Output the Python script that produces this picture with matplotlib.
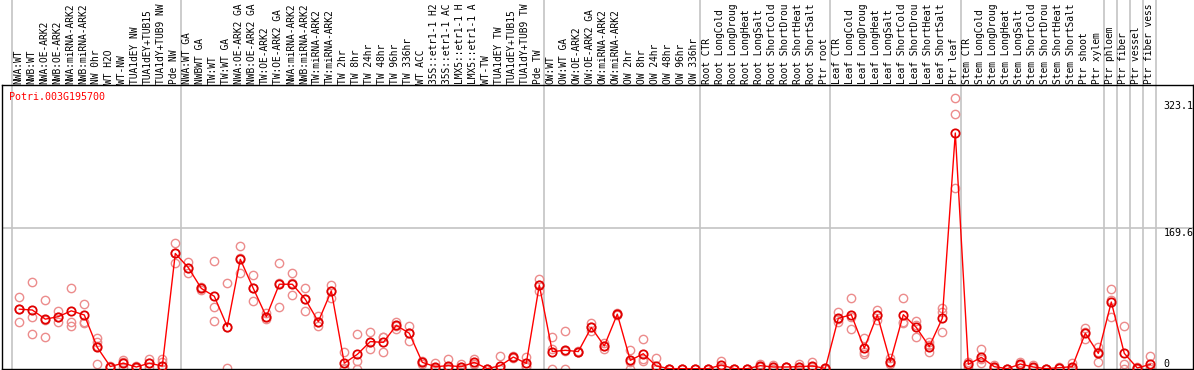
import numpy as np
import matplotlib
matplotlib.use('Agg')
import matplotlib.pyplot as plt
import matplotlib.transforms as mtransforms

# sample names (columns)
samples = [
    'NWA:WT', 'NWB:WT', 'NWA:OE-ARK2', 'NWB:OE-ARK2', 'NWA:miRNA-ARK2',
    'NWB:miRNA-ARK2', 'NW 0hr', 'WT H2O', 'WT-NW', 'TUA1dEY NW',
    'TUA1dEY+TUB15 NW', 'TUA1dY+TUB9 NW', 'Pde NW',
    'NWA:WT GA', 'NWBWT GA', 'TW:WT', 'TW:WT GA', 'NWA:OE-ARK2 GA',
    'NWB:OE-ARK2 GA', 'TW:OE-ARK2', 'TW:OE-ARK2 GA', 'NWA:miRNA-ARK2',
    'NWB:miRNA-ARK2', 'TW:miRNA-ARK2', 'TW:miRNA-ARK2', 'TW 2hr', 'TW 8hr',
    'TW 24hr', 'TW 48hr', 'TW 96hr', 'TW 336hr', 'WT ACC',
    '35S::etr1-1 H2O', '35S::etr1-1 ACC', 'LMX5::etr1-1 H2O',
    'LMX5::etr1-1 ACC', 'WT-TW', 'TUA1dEY TW', 'TUA1dEY+TUB15 TW',
    'TUA1dY+TUB9 TW', 'Pde TW',
    'OW:WT', 'OW:WT GA', 'OW:OE-ARK2', 'OW:OE-ARK2 GA', 'OW:miRNA-ARK2',
    'OW:miRNA-ARK2', 'OW 2hr', 'OW 8hr', 'OW 24hr', 'OW 48hr', 'OW 96hr',
    'OW 336hr',
    'Root CTR', 'Root LongCold', 'Root LongDrought', 'Root LongHeat',
    'Root LongSalt', 'Root ShortCold', 'Root ShortDrought', 'Root ShortHeat',
    'Root ShortSalt', 'Ptr root',
    'Leaf CTR', 'Leaf LongCold', 'Leaf LongDrought', 'Leaf LongHeat',
    'Leaf LongSalt', 'Leaf ShortCold', 'Leaf ShortDrought', 'Leaf ShortHeat',
    'Leaf ShortSalt', 'Ptr leaf',
    'Stem CTR', 'Stem LongCold', 'Stem LongDrought', 'Stem LongHeat',
    'Stem LongSalt', 'Stem ShortCold', 'Stem ShortDrought', 'Stem ShortHeat',
    'Stem ShortSalt', 'Ptr shoot',
    'Ptr xylem', 'Ptr phloem', 'Ptr fiber', 'Ptr vessel', 'Ptr fiber vessel',
]

# mean expression per sample
means = [
    72, 71, 60, 63, 70, 65, 26, 3, 7, 2.4, 7, 3.6, 139,
    122, 97, 87.5, 51, 132, 97, 63, 102, 102, 84, 57, 94, 7, 17.6, 33, 32,
    52.5, 43, 8, 2.8, 4, 2.8, 8, 0.4, 4, 14.4, 6.8, 101,
    21, 22.5, 21, 50, 27.7, 66, 10.4, 18.4, 3.6, 0.4, 0.4, 0.4,
    0.4, 4.8, 0.4, 0.4, 4, 2.4, 2.4, 2.8, 3.6, 0.8,
    61, 65.4, 25, 65, 8.8, 65.4, 50, 27, 61, 284,
    5.6, 14, 2.8, 0.4, 6, 2.4, 0.4, 1.6, 2.8, 43,
    18.8, 80.6, 18.8, 1.2, 5.6,
]

# replicate values per sample
reps = [
    [87, 57, 72], [105, 63, 42], [83, 39, 59], [70, 63, 57], [98, 56, 52],
    [78, 57, 55], [37, 32, 28, 6], [4, 2, 2], [11, 8, 3], [4, 2, 1],
    [12, 7, 2], [12, 9, 0], [152, 127, 139],
    [129, 115, 122], [99, 97, 95], [130, 75, 58], [103, 50, 1],
    [148, 115, 133], [113, 82, 97], [67, 60, 63], [128, 75, 103],
    [115, 89, 103], [98, 70, 84], [64, 52, 57], [101, 85, 94], [20, 1, 0],
    [42, 10, 0], [44, 24, 32], [38, 20, 38],
    [57, 48, 52], [52, 34, 43], [10, 6, 8], [7, 1, 0], [12, 1, 0],
    [6, 2, 0], [12, 6, 6], [0, 0, 0], [16, 0, 0], [16, 13, 14],
    [15, 4, 2], [108, 94, 101],
    [38, 24, 0], [46, 22, 0], [21, 20, 22], [55, 46, 50], [31, 24, 28],
    [67, 65, 66], [23, 8, 0], [36, 12, 10], [13, 0, 0], [0, 0, 0],
    [0, 0, 0], [0, 0, 0],
    [0, 0, 0], [10, 3, 0], [0, 0, 0], [0, 0, 0], [6, 4, 2],
    [5, 2, 0], [2, 2, 2], [6, 2, 0], [8, 3, 0], [1, 0, 0],
    [69, 57, 60], [85, 62, 48], [37, 18, 20], [71, 59, 65], [13, 6, 8],
    [85, 56, 55], [58, 38, 53], [32, 20, 29], [74, 69, 44],
    [326, 307, 218],
    [8, 3, 6], [24, 7, 12], [5, 2, 1], [0, 0, 0], [8, 5, 5],
    [5, 1, 1], [0, 0, 0], [2, 1, 1], [7, 1, 0], [49, 36, 45],
    [27, 8, 21], [96, 63, 83], [52, 6, 0], [2, 1, 0], [16, 3, 0],
]

group_ends = [-1, 12, 40, 52, 62, 72, 83, 84, 85, 86, 87]
y_ticks = [323.1, 169.6, 0]
gene = 'Potri.003G195700'
max_chars = 14  # the header only has room for this many characters

plt.rcParams['font.family'] = 'DejaVu Sans Mono'

fig = plt.figure(figsize=(11.94, 3.70), dpi=100)
W, H = 1194.0, 370.0
ax = fig.add_axes([1.5 / W, 1.0 / H, 1191.5 / W, 284.0 / H])

x = np.arange(len(samples))
ax.set_xlim((1.5 - 19.3) / 13, (1193 - 19.3) / 13)
ax.set_ylim(0, 284 / 0.831)

for s in ax.spines.values():
    s.set_color('black')
    s.set_linewidth(1.0)
ax.set_xticks([])
ax.set_yticks([])

# grid lines
ax.axhline(169.6, color='#c4c4c4', lw=1.2, zorder=1)
for g in group_ends:
    ax.axvline(g + 0.4, ymin=0, ymax=1.31, color='#c4c4c4', lw=1.2,
               clip_on=False, zorder=1)

# replicates
for i, r in enumerate(reps):
    ax.plot([i] * len(r), r, 'o', ms=6, mfc='none', mec='#ec8c8c',
            mew=1.0, zorder=2)

# means
ax.plot(x, means, '-', color='red', lw=1.0, zorder=3)
ax.plot(x, means, 'o', ms=6, mfc='none', mec='#e00000', mew=1.3, zorder=4)

# sample labels (cut to the header height, as in the original)
trans = mtransforms.blended_transform_factory(ax.transData, ax.transAxes)
for i, name in enumerate(samples):
    ax.text(i - 0.1, 1.0 + 1.5 / 284, name[:max_chars].rstrip(),
            transform=trans, rotation=90, ha='center', va='bottom',
            fontsize=6.95, color='black', clip_on=False)

# value labels on the right
for v in y_ticks:
    ax.text(88, v, ('%g' % v) if v == 0 else '%.1f' % v,
            va='bottom' if v == 0 else 'top', ha='left', fontsize=7.2,
            color='black')

ax.text((9.3 - 1.5) / 1191.5, 1 - 12.0 / 284, gene, transform=ax.transAxes,
        ha='left', va='center', fontsize=7.2, color='red')

fig.savefig('out.png', dpi=100)
